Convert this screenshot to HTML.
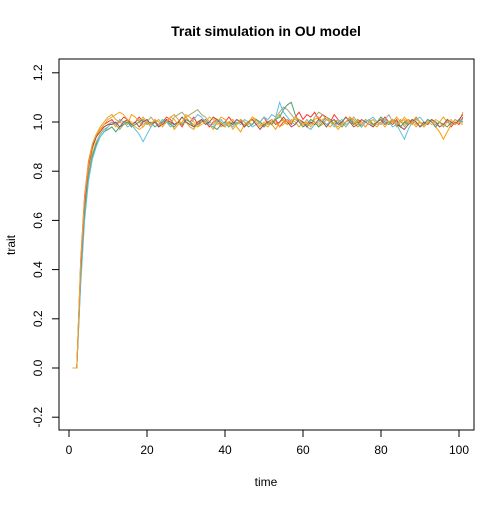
<!DOCTYPE html>
<html><head><meta charset="utf-8"><style>
body{margin:0;background:#fff}
svg text{font-family:"Liberation Sans",sans-serif}
</style></head><body>
<svg id="chart" width="504" height="504">
<text x="266" y="36" text-anchor="middle" font-size="14" font-weight="bold">Trait simulation in OU model</text>
<text x="266" y="486" text-anchor="middle" font-size="12">time</text>
<text x="15" y="245" text-anchor="middle" font-size="12" transform="rotate(-90 15 245)">trait</text>
<rect x="59" y="59" width="415" height="371" fill="none" stroke="#000"/>
<g id="axes"></g>
<g id="lines"></g>
</svg>
<script>
const xTicks=[0,20,40,60,80,100];
const yTicks=[-0.2,0,0.2,0.4,0.6,0.8,1.0,1.2];
const yTickLabels=["-0.2","0.0","0.2","0.4","0.6","0.8","1.0","1.2"];
const seriesColors=["#FF3030","#FF9900","#E0A020","#A8A878","#4C9F6F","#5BC0DE","#A05050","#F5A623"];
const sRed=[0,0,0.44,0.70,0.84,0.91,0.95,0.97,0.99,1.00,1.01,0.99,1.00,1.02,1.01,0.99,1.00,1.02,1.00,1.01,0.99,1.01,0.98,1.00,1.02,1.01,0.99,1.00,0.98,1.01,1.00,1.02,0.99,1.01,1.00,0.98,1.00,1.01,0.99,1.00,1.02,1.00,0.99,1.01,0.98,1.00,1.01,0.99,1.00,1.02,0.99,1.00,1.01,0.98,1.00,1.01,0.99,1.02,1.04,1.01,1.03,1.02,1.04,1.01,1.03,1.02,1.00,1.03,1.01,0.99,1.00,1.02,0.99,1.01,1.00,0.98,1.00,1.01,0.99,1.00,1.02,1.00,0.99,1.01,0.98,1.00,1.01,0.99,1.02,1.00,0.99,1.01,1.00,0.98,1.00,0.99,1.01,0.98,1.00,0.99,1.02];
const sOrange=[0,0,0.40,0.66,0.81,0.89,0.94,0.97,0.98,0.99,1.00,0.98,1.01,1.00,0.99,1.03,1.02,1.00,0.98,1.00,0.99,1.00,0.98,0.99,1.01,1.00,0.97,0.99,1.00,1.02,1.00,0.99,0.98,1.00,1.01,0.99,0.97,1.00,1.02,1.01,0.99,1.00,0.98,0.96,0.99,1.00,1.02,1.01,0.99,0.98,1.00,0.99,0.97,1.00,1.01,0.99,1.00,1.02,1.00,0.98,1.00,0.99,1.01,1.02,1.00,0.99,0.98,1.00,1.01,0.99,1.00,1.02,1.00,0.98,0.99,1.01,1.00,0.99,0.98,1.00,1.01,0.99,1.00,1.02,1.00,0.99,1.01,1.00,0.98,1.00,0.99,1.01,1.00,0.98,0.96,0.93,0.96,0.99,1.01,1.00,0.99];
const sGold=[0,0,0.42,0.68,0.83,0.90,0.95,0.98,1.00,1.02,1.03,1.01,1.00,0.99,1.01,0.98,0.99,1.00,1.02,1.00,0.98,1.00,1.01,0.99,1.00,1.02,1.03,1.01,0.99,1.00,0.98,0.97,1.00,1.01,0.99,1.00,1.02,1.00,0.98,0.99,1.00,1.01,0.99,1.00,0.98,1.00,0.99,1.01,1.00,0.99,0.98,1.00,1.01,1.03,1.00,0.99,1.01,1.00,0.98,1.00,0.99,1.01,1.00,0.98,0.99,1.01,1.00,0.99,0.98,1.00,1.02,1.00,0.99,1.01,0.98,1.00,1.01,0.99,1.00,1.02,1.00,0.99,1.01,0.98,1.00,1.01,0.99,1.00,1.02,1.00,0.99,1.01,1.00,0.98,1.00,1.02,1.00,0.99,1.01,1.00,1.04];
const sKhaki=[0,0,0.38,0.64,0.79,0.87,0.92,0.95,0.97,0.98,1.00,0.99,0.97,0.99,1.00,0.98,1.00,1.01,0.99,1.00,1.02,1.00,0.99,1.01,1.00,0.99,1.02,1.03,1.04,1.02,1.03,1.04,1.05,1.03,1.02,1.00,0.99,1.01,1.00,0.98,1.00,0.99,1.01,1.00,0.98,1.00,1.01,0.99,1.00,1.02,1.00,0.99,1.02,1.04,1.06,1.05,1.03,1.01,1.00,0.99,1.01,0.99,1.02,1.04,1.03,1.01,1.00,0.99,1.01,1.00,0.98,1.00,1.02,1.00,0.99,1.01,1.00,0.98,1.00,0.99,1.01,1.03,1.00,0.99,1.01,0.98,1.00,1.01,0.99,1.00,0.98,1.00,1.01,0.99,1.00,0.98,1.00,0.99,1.01,1.00,1.00];
const sGreen=[0,0,0.36,0.62,0.77,0.86,0.91,0.94,0.96,0.97,0.98,0.96,0.98,0.99,1.00,0.98,0.99,1.00,1.01,0.99,1.00,0.98,0.99,1.00,1.01,0.99,0.98,1.00,0.99,1.01,1.00,0.98,0.99,1.00,1.01,0.99,0.98,0.97,0.99,1.00,0.98,1.00,0.99,1.01,1.00,0.98,0.99,1.01,1.00,0.98,1.00,0.99,1.01,1.02,1.05,1.07,1.08,1.03,1.00,0.98,0.99,1.01,1.00,0.98,1.00,1.02,1.01,0.99,1.00,0.98,1.00,1.01,0.99,1.00,0.98,1.00,1.01,0.99,1.00,1.02,1.00,0.99,1.01,1.00,0.98,1.00,0.99,1.01,1.00,0.98,0.99,1.01,1.00,0.98,1.00,0.99,0.98,1.00,0.99,1.01,1.00];
const sCyan=[0,0,0.34,0.60,0.76,0.85,0.90,0.94,0.96,0.98,1.00,0.99,1.01,1.00,0.98,0.99,0.97,0.95,0.92,0.95,0.98,1.00,0.99,1.01,1.00,0.98,0.99,1.00,1.02,1.00,0.99,1.01,1.03,1.02,1.00,0.99,0.98,1.00,1.01,0.99,1.00,0.98,1.00,0.99,1.01,1.00,0.98,0.99,1.00,1.02,1.01,1.03,1.02,1.08,1.04,1.02,1.00,0.99,1.01,1.00,0.98,0.97,0.99,1.00,1.01,0.99,1.00,0.98,1.00,1.01,0.99,1.00,1.01,0.99,0.98,1.00,1.01,1.02,1.00,0.99,1.01,1.00,0.98,0.99,0.96,0.93,0.97,1.00,1.01,1.02,1.00,0.99,1.01,1.00,0.98,0.99,1.01,1.00,0.99,1.00,1.01];
const sBrown=[0,0,0.41,0.67,0.82,0.90,0.94,0.96,0.98,0.99,0.99,1.00,0.98,1.00,1.01,0.99,1.00,0.98,1.00,1.01,0.99,1.00,0.98,0.99,1.01,1.00,0.99,1.00,1.02,1.00,0.99,0.98,1.00,1.01,0.99,1.00,1.02,1.01,0.99,0.98,1.00,0.99,1.01,1.00,0.98,1.00,1.01,0.99,0.97,0.99,1.00,1.01,0.99,1.00,1.02,1.00,0.98,0.99,1.01,1.00,0.98,1.00,0.99,1.01,1.00,0.98,1.00,1.01,0.99,1.00,1.02,1.00,0.98,0.99,1.01,1.00,0.99,0.98,1.00,1.01,0.99,1.00,1.01,0.99,0.98,0.97,0.99,1.01,1.00,0.98,1.00,0.99,1.01,1.00,0.98,0.99,1.01,1.00,0.99,1.01,1.03];
const sAmber=[0,0,0.43,0.69,0.83,0.91,0.95,0.97,0.99,1.01,1.02,1.03,1.04,1.03,1.01,1.00,0.98,0.97,0.98,1.00,0.99,1.01,1.00,0.98,1.00,1.02,1.01,0.99,1.00,1.03,1.02,1.00,0.98,0.99,1.00,1.02,1.01,0.99,1.00,0.98,1.00,0.97,0.99,1.01,1.00,0.99,1.02,1.00,0.98,1.00,0.99,1.01,1.00,0.98,0.99,1.01,1.00,1.02,1.01,0.99,1.00,0.98,1.00,0.99,1.01,1.02,1.00,0.99,0.97,0.99,1.00,1.02,1.01,0.99,1.00,0.98,1.00,1.01,0.99,1.00,0.98,1.00,1.01,0.99,1.00,1.02,1.00,0.99,1.01,1.00,0.98,1.00,0.99,1.01,1.00,0.98,1.00,1.01,0.99,1.00,0.99];
const allSeries=[sRed,sOrange,sGold,sKhaki,sGreen,sCyan,sBrown,sAmber];
const seriesNames=["series-red","series-orange","series-gold","series-khaki","series-green","series-cyan","series-brown","series-amber"];

const NS="http://www.w3.org/2000/svg";
function xs(t){return 69+(t-0)*(459-69)/100;}
function ys(v){return 368-v*246;}
const ax=document.getElementById('axes');
function mk(tag,attrs,parent){const e=document.createElementNS(NS,tag);for(const k in attrs)e.setAttribute(k,attrs[k]);parent.appendChild(e);return e;}
// x axis
let xl=mk('line',{x1:xs(0),x2:xs(100),y1:430,y2:430,stroke:'#000'},ax);


xTicks.forEach(t=>{
 const l=mk('line',{x1:xs(t),x2:xs(t),y1:430,y2:437,stroke:'#000'},ax);
 
 
 const tx=mk('text',{x:xs(t),y:454,'text-anchor':'middle','font-size':12},ax);tx.textContent=t;
 
 
});
let yl=mk('line',{x1:59,x2:59,y1:ys(-0.2),y2:ys(1.2),stroke:'#000'},ax);


yTicks.forEach((v,i)=>{
 const l=mk('line',{x1:52,x2:59,y1:ys(v),y2:ys(v),stroke:'#000'},ax);
 
 
 const tx=mk('text',{x:42,y:ys(v),'text-anchor':'middle','font-size':12,transform:`rotate(-90 42 ${ys(v)})`,dy:'0'},ax);tx.textContent=yTickLabels[i];
 
 
});
const lg=document.getElementById('lines');
allSeries.forEach((s,k)=>{
 const pts=s.map((v,i)=>xs(i+1).toFixed(1)+','+ys(v).toFixed(1)).join(' ');
 const p=mk('polyline',{points:pts,fill:'none',stroke:seriesColors[k],'stroke-width':1},lg);
 
 
});
</script>
</body></html>
